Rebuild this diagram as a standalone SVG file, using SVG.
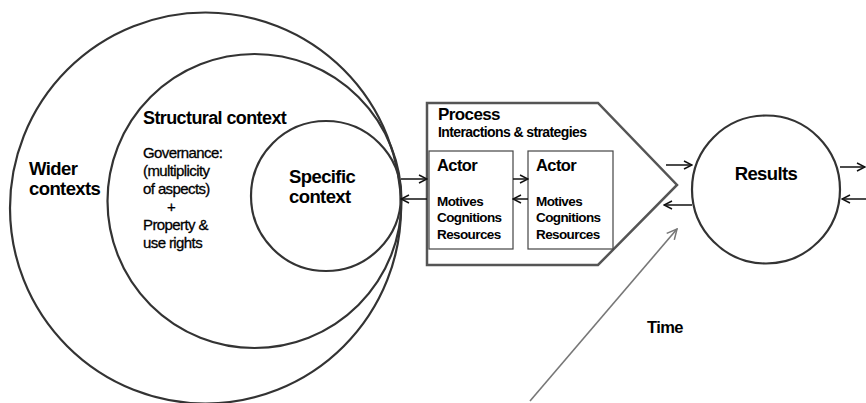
<svg xmlns="http://www.w3.org/2000/svg" width="866" height="403" viewBox="0 0 866 403">
  <defs>
    <marker id="open" markerWidth="10" markerHeight="10" refX="9" refY="5" orient="auto" markerUnits="userSpaceOnUse">
      <path d="M1,1 L9,5 L1,9" fill="none" stroke="#111" stroke-width="1.5"/>
    </marker>
    <marker id="openGrey" markerWidth="12" markerHeight="12" refX="11" refY="6" orient="auto" markerUnits="userSpaceOnUse">
      <path d="M1,1 L11,6 L1,11" fill="none" stroke="#777" stroke-width="1.5"/>
    </marker>
    <style>
      .ring { fill: none; stroke: #333; stroke-width: 2.2; }
      .box { fill: #fff; stroke: #444; stroke-width: 1.2; }
      .proc { fill: #fff; stroke: #555; stroke-width: 2.5; }
      .t { font-family: "Liberation Sans", Arial, sans-serif; fill: #000; letter-spacing: -0.6px; }
      .b { font-weight: bold; }
      .r { stroke: #000; stroke-width: 0.3; }
      .link { stroke: #111; stroke-width: 1.5; fill: none; marker-end: url(#open); }
      .time { stroke: #777; stroke-width: 1.6; fill: none; marker-end: url(#openGrey); }
    </style>
  </defs>
  <rect width="866" height="403" fill="#fff"/>

  <!-- Nested context circles -->
  <g id="wider-contexts">
    <circle class="ring" cx="205.5" cy="208" r="195.5"/>
    <text class="t b" x="29" y="175" font-size="18.5" letter-spacing="-0.3">Wider</text>
    <text class="t b" x="29" y="195" font-size="18.5" letter-spacing="-0.3">contexts</text>
  </g>
  <g id="structural-context">
    <circle class="ring" cx="254.5" cy="201" r="147"/>
    <text class="t b" x="143" y="124" font-size="18" letter-spacing="-0.2">Structural context</text>
    <text class="t r" font-size="15" letter-spacing="-0.3">
      <tspan x="143" y="158">Governance:</tspan>
      <tspan x="143" y="176">(multiplicity</tspan>
      <tspan x="143" y="194">of aspects)</tspan>
      <tspan x="167" y="212">+</tspan>
      <tspan x="143" y="230">Property &amp;</tspan>
      <tspan x="143" y="248">use rights</tspan>
    </text>
  </g>
  <g id="specific-context">
    <circle class="ring" cx="326" cy="196" r="75"/>
    <text class="t b" x="289" y="183" font-size="18.5">Specific</text>
    <text class="t b" x="289" y="203" font-size="18.5">context</text>
  </g>

  <!-- Process arrow shape -->
  <g id="process">
    <polygon class="proc" points="427,103 598,103 677,185 598,265 427,265"/>
    <text class="t b" x="438" y="120" font-size="17">Process</text>
    <text class="t b" x="438" y="137" font-size="14" letter-spacing="-0.25">Interactions &amp; strategies</text>
  </g>
  <g id="actor-1">
    <rect class="box" x="429" y="151" width="84" height="98"/>
    <text class="t b" x="437" y="171" font-size="16.5">Actor</text>
    <text class="t b" font-size="13.5" letter-spacing="0">
      <tspan x="437" y="206">Motives</tspan>
      <tspan x="437" y="222">Cognitions</tspan>
      <tspan x="437" y="239">Resources</tspan>
    </text>
  </g>
  <g id="actor-2">
    <rect class="box" x="528" y="151" width="85" height="98"/>
    <text class="t b" x="536" y="171" font-size="16.5">Actor</text>
    <text class="t b" font-size="13.5" letter-spacing="0">
      <tspan x="536" y="206">Motives</tspan>
      <tspan x="536" y="222">Cognitions</tspan>
      <tspan x="536" y="239">Resources</tspan>
    </text>
  </g>

  <g id="results">
    <circle class="ring" cx="766" cy="189.5" r="74"/>
    <text class="t b" x="766" y="180" font-size="18.5" text-anchor="middle">Results</text>
  </g>

  <g id="time-label">
    <text class="t b" x="647" y="333" font-size="16.5">Time</text>
  </g>

  <!-- Connectors -->
  <g id="connectors">
    <line class="link" x1="401" y1="179" x2="427" y2="179"/>
    <line class="link" x1="427" y1="199" x2="401" y2="199"/>
    <line class="link" x1="513" y1="179" x2="528" y2="179"/>
    <line class="link" x1="528" y1="199" x2="513" y2="199"/>
    <line class="link" x1="666" y1="165" x2="692" y2="165"/>
    <line class="link" x1="692" y1="205" x2="664" y2="205"/>
    <line class="link" x1="840" y1="167" x2="865" y2="167"/>
    <line class="link" x1="866" y1="199" x2="842" y2="199"/>
    <line class="time" x1="530" y1="401" x2="677" y2="229"/>
  </g>
</svg>
